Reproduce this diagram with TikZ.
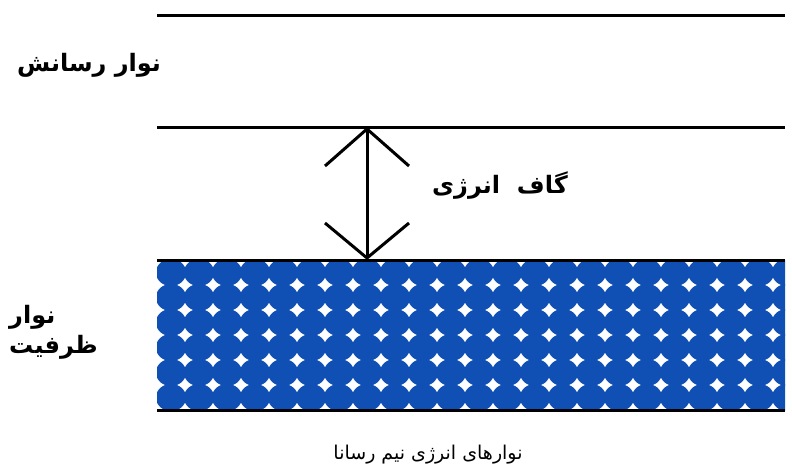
\documentclass[tikz,border=0pt]{standalone}
\usepackage{fontspec}
\newfontfamily\fa[Script=Arabic]{DejaVu Sans}
\TeXXeTstate=1
\definecolor{bandblue}{RGB}{16,80,180}
\tikzset{
  level/.style={line width=3pt},
  gaparrow/.style={line width=3pt},
  label/.style={font=\fa\bfseries\fontsize{24}{26}\selectfont, inner sep=0pt},
  caption/.style={font=\fa\fontsize{19}{22}\selectfont, inner sep=0pt},
}
\begin{document}
\begin{tikzpicture}[x=1pt,y=-1pt]
\useasboundingbox (0,0) rectangle (792,468);
% conduction band lines
\coordinate (c1l) at (157,16);
\coordinate (c1r) at (785,16);
\coordinate (c2l) at (157,128);
\coordinate (c2r) at (785,128);
\draw[level] (c1l) -- (c1r);
\draw[level] (c2l) -- (c2r);
% valence band
\begin{scope}
  \clip (157,260) rectangle (785,410);
  \foreach \j in {0,...,5}{
    \foreach \k in {0,...,22}{
      \fill[bandblue] (171+28*\k,272.5+25*\j) ellipse [x radius=15.1, y radius=13.6];
    }
  }
\end{scope}
\coordinate (vtl) at (157,260);
\coordinate (vtr) at (785,260);
\coordinate (vbl) at (157,410);
\coordinate (vbr) at (785,410);
\draw[level] (vtl) -- (vtr);
\draw[level] (vbl) -- (vbr);
% energy gap arrow
\coordinate (gt) at (367,129);
\coordinate (gb) at (367,258);
\draw[gaparrow] (gt) -- (gb);
\draw[gaparrow] ([shift={(-42,37)}]gt) -- (gt) -- ([shift={(42,37)}]gt);
\draw[gaparrow] ([shift={(-42,-35)}]gb) -- (gb) -- ([shift={(42,-35)}]gb);
% labels
\node[label] (cond) at (89,65) {\beginR نوار رسانش\endR};
\node[label] (gap) at (500,186) {\beginR گاف\ \ انرژی\endR};
\node[label, align=left, anchor=west] (val) at (9,332) {\beginR نوار\endR\\[4pt]\beginR ظرفیت\endR};
\node[caption] (cap) at (428,455) {\beginR نوارهای انرژی نیم رسانا\endR};
\end{tikzpicture}
\end{document}
